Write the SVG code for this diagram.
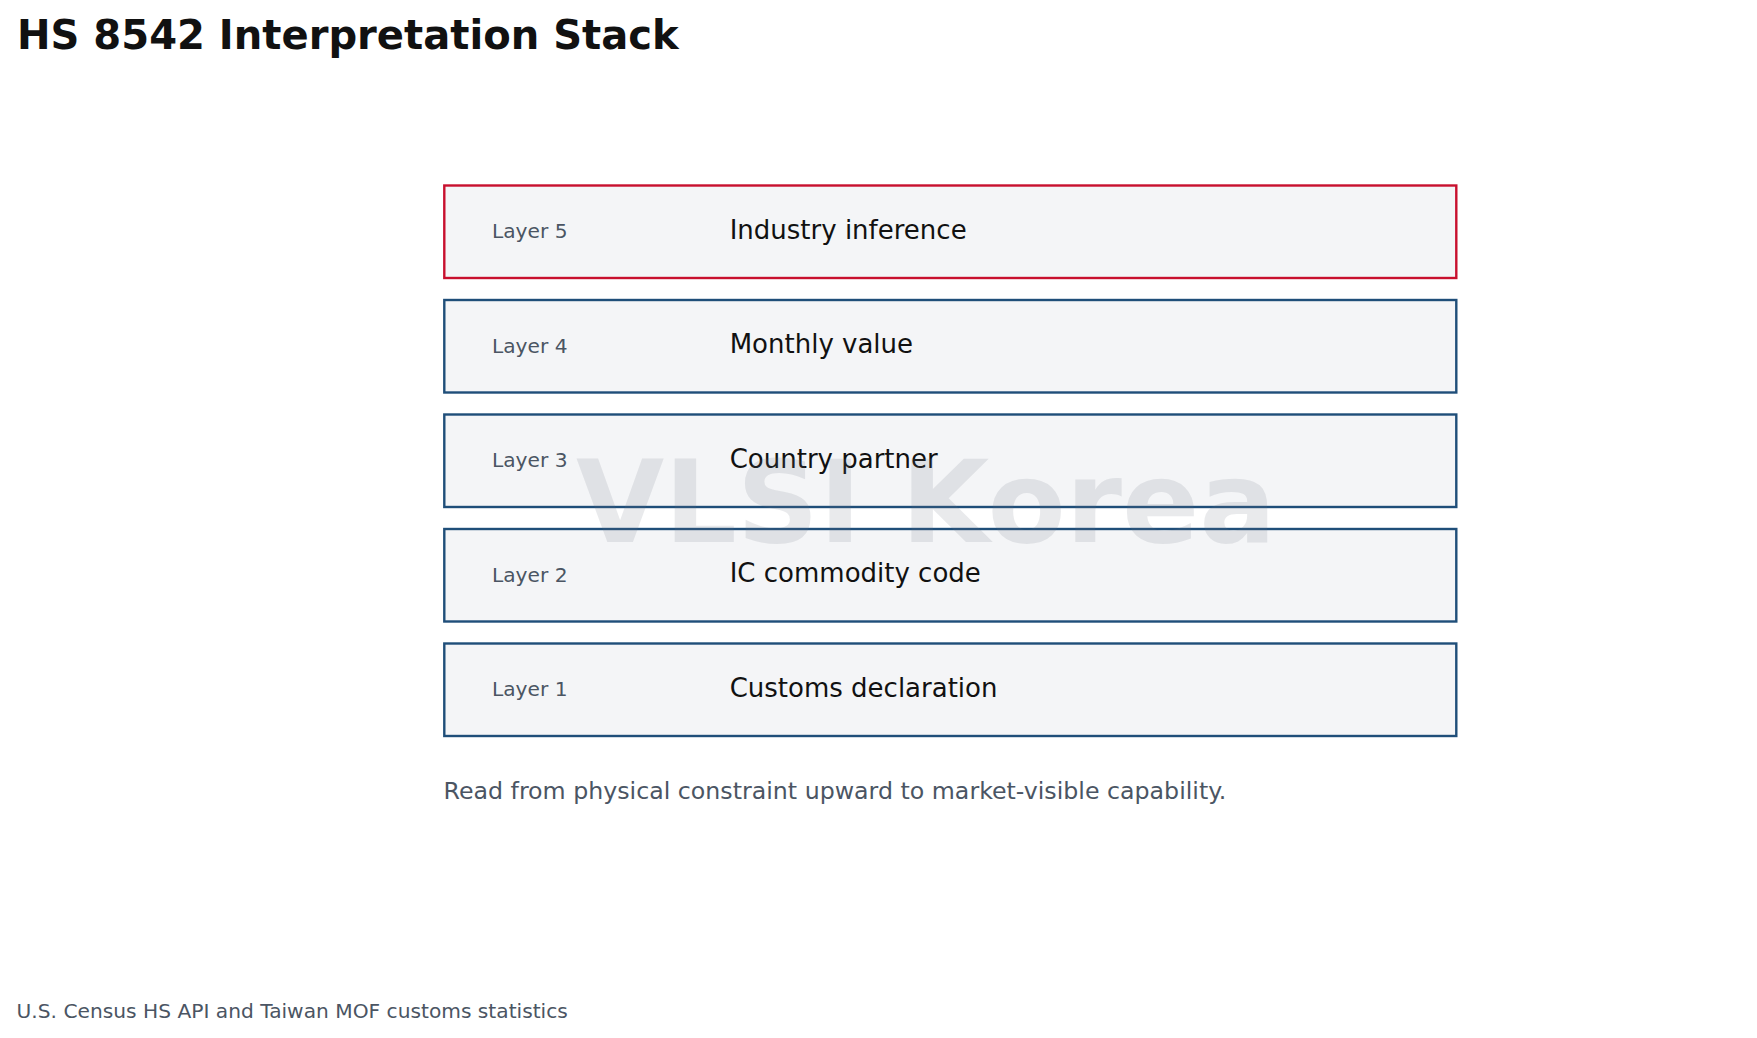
<svg xmlns="http://www.w3.org/2000/svg" width="1757" height="1038" viewBox="0 0 1757 1038">
<style>
.bg{fill:#ffffff}
.box{fill:#F4F5F7;stroke:#1F4E79;stroke-width:2.4}
.box.hl{stroke:#C8102E}
.lay{font-family:"DejaVu Sans",sans-serif;font-size:20.2px;fill:#4B5563}
.main{font-family:"DejaVu Sans",sans-serif;font-size:26px;fill:#111111}
.title{font-family:"DejaVu Sans",sans-serif;font-weight:bold;font-size:40.1px;fill:#111111}
.cap{font-family:"DejaVu Sans",sans-serif;font-size:23.7px;fill:#4B5563}
.foot{font-family:"DejaVu Sans",sans-serif;font-size:20.2px;fill:#4B5563}
.wm{font-family:"DejaVu Sans",sans-serif;font-weight:bold;font-size:114px;fill:#6B7280;fill-opacity:0.15}
</style>
<rect class="bg" x="0" y="0" width="1757" height="1038"/>
<text class="title" x="17" y="49">HS 8542 Interpretation Stack</text>
<g id="layer5">
<rect class="box hl" x="444.3" y="185.5" width="1012" height="92.5"/>
<text class="lay" x="492" y="238">Layer 5</text>
<text class="main" x="729.7" y="238.5">Industry inference</text>
</g>
<g id="layer4">
<rect class="box" x="444.3" y="300" width="1012" height="92.5"/>
<text class="lay" x="492" y="352.5">Layer 4</text>
<text class="main" x="729.7" y="353">Monthly value</text>
</g>
<g id="layer3">
<rect class="box" x="444.3" y="414.5" width="1012" height="92.5"/>
<text class="lay" x="492" y="467">Layer 3</text>
<text class="main" x="729.7" y="467.5">Country partner</text>
</g>
<g id="layer2">
<rect class="box" x="444.3" y="529" width="1012" height="92.5"/>
<text class="lay" x="492" y="581.5">Layer 2</text>
<text class="main" x="729.7" y="582">IC commodity code</text>
</g>
<g id="layer1">
<rect class="box" x="444.3" y="643.5" width="1012" height="92.5"/>
<text class="lay" x="492" y="696">Layer 1</text>
<text class="main" x="729.7" y="696.5">Customs declaration</text>
</g>
<g id="connectors"></g>
<text class="cap" x="443.5" y="799">Read from physical constraint upward to market-visible capability.</text>
<text class="foot" x="16.6" y="1018">U.S. Census HS API and Taiwan MOF customs statistics</text>
<text class="wm" x="576" y="542">VLSI Korea</text>
</svg>
